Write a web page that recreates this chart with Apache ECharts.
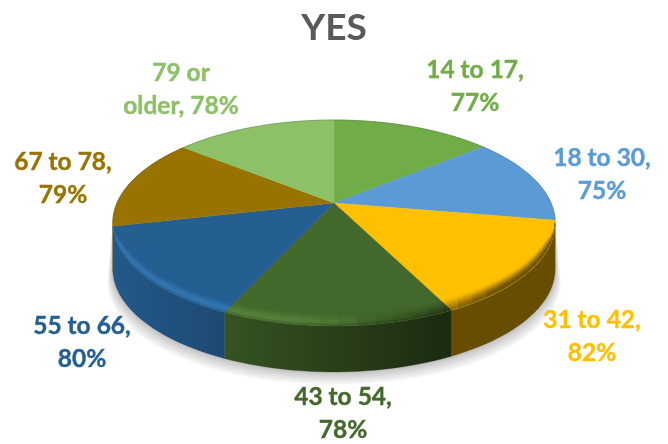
<!DOCTYPE html>
<html><head><meta charset="utf-8">
<style>html,body{margin:0;padding:0;background:#fff}#c{width:668px;height:444px}</style>
<script src="https://cdn.jsdelivr.net/npm/echarts@6/dist/echarts.min.js"></script>
</head><body><div id="c"></div>
<script>
const chartTitle = 'YES';
const categories = ['14 to 17', '18 to 30', '31 to 42', '43 to 54', '55 to 66', '67 to 78', '79 or\nolder'];
const values = [77, 75, 82, 78, 80, 79, 78];
const colors = ['#70AD47', '#5B9BD5', '#FFC000', '#43682B', '#255E91', '#997300', '#8CC168'];
const shadowShades = ['#f4f4f4', '#ebebeb', '#e2e2e2', '#d9d9d9', '#d0d0d0', '#c6c6c6'];

// Scene geometry (projection of the pie's disc)
const CX = 334, CY = 203, AX = 217, BY = 99.1, K = 0.194, DEPTH = 46, BEVEL = 12;
const TANGENT = Math.acos(-K) * 180 / Math.PI;
const labelAt = [[475, 87], [602, 175], [592, 337], [343, 414], [82, 343], [63, 179], [181, 90]];
const total = values.reduce((a, b) => a + b, 0);

function proj(deg) {
  const r = deg * Math.PI / 180, u = Math.sin(r), v = -Math.cos(r), d = 1 - K * v;
  return [CX + AX * u / d, CY + BY * v / d];
}
function hex(c) { return [1, 3, 5].map(i => parseInt(c.substr(i, 2), 16)); }
function mix(a, b, t) { return a.map((x, i) => x + (b[i] - x) * t); }
function scale(a, f) { return a.map(x => Math.min(255, x * f)); }
function css(a) { return 'rgb(' + a.map(Math.round).join(',') + ')'; }
function arc(a1, a2, off) {
  const pts = [], n = Math.max(1, Math.ceil((a2 - a1) / 2));
  for (let i = 0; i <= n; i++) { const a = a1 + (a2 - a1) * i / n, p = proj(a); pts.push([p[0], p[1] + (off ? off(a) : 0)]); }
  return pts;
}
function bevelOff(a) {
  const e = Math.min(a - TANGENT, 360 - TANGENT - a);
  return Math.max(0, Math.min(1, e / 15)) * BEVEL;
}
function light(a) {
  const s = (a - TANGENT) / (360 - 2 * TANGENT);
  if (s < 0.25) return 0.42;
  if (s < 0.55) return 0.42 + (1.25 - 0.42) * (s - 0.25) / 0.3;
  return 1.25;
}
function wallColor(i, t) {           // t: 0 at the wall's left edge of the screen, 1 at its right
  if (i === 2) return scale(hex(colors[i]), 0.4);
  if (i === 3) return mix(scale(hex(colors[i]), 0.8), scale(hex(colors[i]), 0.4), t);
  return mix(scale(hex(colors[i]), 0.95), scale(hex(colors[i]), 0.78), Math.min(1, t * 2.5));
}
// Soft drop shadow: nested silhouettes of the pie's lower edge, widest and palest first.
function renderShadow(params) {
  const idx = params.dataIndex, s = shadowShades.length - idx;
  const drop = DEPTH + s * 2, grow = s * 0.9;
  const lower = arc(TANGENT, 360 - TANGENT).map(p => [p[0] + Math.sign(p[0] - CX) * grow, p[1] + drop]);
  return { type: 'polygon', shape: { points: [proj(TANGENT)].concat(lower, [proj(360 - TANGENT)]) },
    style: { fill: shadowShades[idx], stroke: null } };
}

function renderSlice(params, api) {
  const i = params.dataIndex, val = api.value(0);
  let start = 0;
  for (let j = 0; j < i; j++) start += values[j] / total * 360;
  const end = start + val / total * 360;
  const top = hex(colors[i]);
  const kids = [];
  const topPts = [[CX, CY]].concat(arc(start, end));
  const fa = Math.max(start, TANGENT), fb = Math.min(end, 360 - TANGENT);
  if (fb > fa) {
    const upper = arc(fa, fb), lower = arc(fa, fb, () => DEPTH).reverse();
    const p1 = proj(fb), p2 = proj(fa);
    kids.push({ type: 'polygon', z2: 0, shape: { points: upper.concat(lower) },
      style: { fill: { type: 'linear', x: p1[0], y: 0, x2: p2[0], y2: 0, global: true,
        colorStops: [{ offset: 0, color: css(wallColor(i, 0)) }, { offset: 1, color: css(wallColor(i, 1)) }] },
        stroke: css(wallColor(i, 0.5)), lineWidth: 0.3 } });
    const STRIPS = 6, STEP = 4, PEAK = 0.7;
    const ga = Math.max(start - 10, TANGENT), gb = Math.min(end + 10, 360 - TANGENT);
    const n = Math.max(1, Math.ceil((gb - ga) / STEP));
    const rim = [];
    for (let k = 0; k < n; k++) {
      const a = ga + (gb - ga) * k / n, b = ga + (gb - ga) * (k + 1) / n, m = (a + b) / 2;
      const edge = mix(scale(top, light(m)), [255, 255, 255], light(m) > 1 ? 0.04 : 0);
      const sx = Math.max(0, Math.min(1, (proj(m)[0] - p1[0]) / ((p2[0] - p1[0]) || 1)));
      const w = wallColor(i, sx);
      const pa = proj(a), pb = proj(b), da = bevelOff(a), db = bevelOff(b);
      for (let s = 0; s < STRIPS; s++) {
        const t0 = s / STRIPS, t1 = (s + 1) / STRIPS, t = (t0 + t1) / 2;
        const col = t < PEAK ? mix(top, edge, t / PEAK) : mix(edge, w, (t - PEAK) / (1 - PEAK) * 0.55);
        const c = css(col);
        rim.push({ type: 'polygon', z2: 2, shape: { points: [
          [pa[0], pa[1] - da * (1 - t0)], [pb[0], pb[1] - db * (1 - t0)],
          [pb[0], pb[1] - db * (1 - t1)], [pa[0], pa[1] - da * (1 - t1)]] },
          style: { fill: c, stroke: c, lineWidth: 0.4 } });
      }
    }
    kids.push({ type: 'group', children: rim, clipPath: { type: 'polygon', shape: { points: topPts } } });
  }
  kids.push({ type: 'polygon', z2: 1, shape: { points: topPts },
    style: { fill: colors[i], stroke: colors[i], lineWidth: 0.4 } });
  const backs = [[start, Math.min(end, TANGENT)], [Math.max(start, 360 - TANGENT), end]];
  backs.forEach(b => {
    if (b[1] > b[0]) kids.push({ type: 'polyline', z2: 3, shape: { points: arc(b[0], b[1]) },
      style: { fill: null, stroke: css(scale(top, 0.7)), lineWidth: 1, opacity: 0.6 } });
  });
  const txt = categories[i].includes('\n') ? categories[i] + ', ' + val + '%' : categories[i] + ',\n' + val + '%';
  kids.push({ type: 'text', z2: 5, style: { text: txt, x: labelAt[i][0], y: labelAt[i][1], align: 'center', verticalAlign: 'middle',
    fill: colors[i], stroke: colors[i], lineWidth: 0.4, font: 'bold 24.5px Lato', lineHeight: 33 } });
  return { type: 'group', children: kids };
}
const chart = echarts.init(document.getElementById('c'), null, { renderer: 'canvas' });
chart.setOption({
  animation: false,
  backgroundColor: '#fff',
  title: { text: chartTitle, left: 'center', top: 5, textStyle: { fontFamily: 'Lato', fontWeight: 'bold', fontSize: 37, color: '#595959' } },
  series: [
    { type: 'custom', coordinateSystem: 'none', z: 1, silent: true, renderItem: renderShadow, data: shadowShades.map((s, i) => [i]) },
    { type: 'custom', coordinateSystem: 'none', z: 2, silent: true, renderItem: renderSlice, data: values.map(v => [v]) }
  ]
});
</script></body></html>
